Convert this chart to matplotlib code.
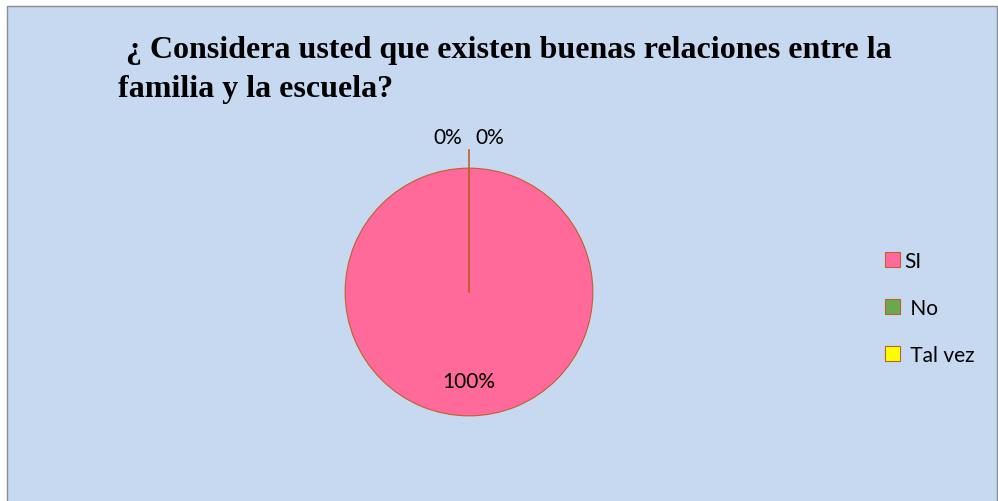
import matplotlib.pyplot as plt
from matplotlib.patches import Rectangle

# datos
categorias = ['SI', ' No', ' Tal vez']
valores = [100, 0, 0]
etiquetas = ['100%', '0%', '0%']
colores = ['#FF6A9A', '#6AA84F', '#FFFF00']
titulo = ' ¿ Considera usted que existen buenas relaciones entre la\nfamilia y la escuela?'

fig = plt.figure(figsize=(9.98, 5.02), dpi=100)
fig.patch.set_facecolor('white')

# fondo del grafico
fondo = Rectangle((7 / 998, -0.05), 989.5 / 998, (495 + 25) / 502,
                  transform=fig.transFigure, facecolor='#C6D9F1',
                  edgecolor='#8C8C8C', linewidth=1.0, zorder=-5)
fig.patches.append(fondo)

fig.text(118 / 998, 1 - 36 / 502, titulo, ha='left', va='top',
         fontsize=23, fontweight='bold', family='Liberation Serif',
         linespacing=1.45)

ax = fig.add_axes([308 / 998, 48 / 502, 322 / 998, 322 / 502])
ax.set_zorder(2)
ax.set_facecolor('none')
wedges, _ = ax.pie(valores, colors=colores, startangle=90, counterclock=False,
                   radius=1.0,
                   wedgeprops=dict(edgecolor='#C0602A', linewidth=0.8))
ax.set_xlim(-1.3, 1.3)
ax.set_ylim(-1.3, 1.3)
ax.set_aspect('equal')
ax.axis('off')

# linea de los sectores de 0%
ax.plot([0, 0], [0, 1.15], color='#C0602A', linewidth=1.2)

fuente = 'Lato'
ax.text(0, -0.72, etiquetas[0], ha='center', va='center', fontsize=15, family=fuente)
ax.text(-0.17, 1.25, etiquetas[1], ha='center', va='center', fontsize=15, family=fuente)
ax.text(0.17, 1.25, etiquetas[2], ha='center', va='center', fontsize=15, family=fuente)

leg = fig.legend(wedges, categorias, loc='upper left',
                 bbox_to_anchor=(866 / 998, 1 - 233 / 502),
                 frameon=False, prop={'family': fuente, 'size': 15},
                 handlelength=0.75, handleheight=0.75, handletextpad=0.2,
                 labelspacing=1.3)

fig.savefig('out.png', dpi=100)
